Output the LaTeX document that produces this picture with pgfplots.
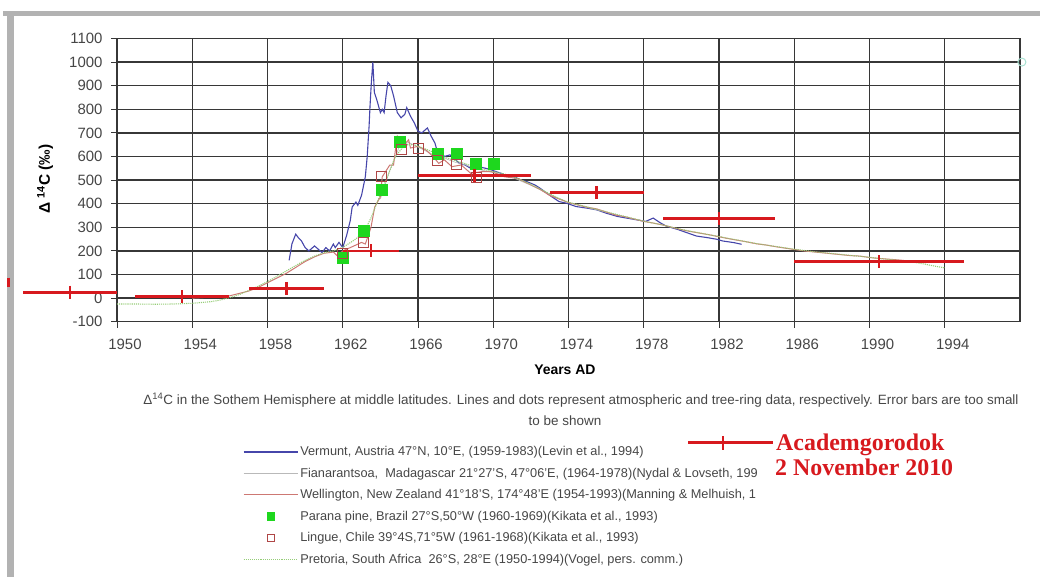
\documentclass[border=0pt]{standalone}
\usepackage{fontspec}
\setmainfont{Liberation Sans}
\newfontfamily\annfont{Liberation Serif}
\usepackage{pgfplots}
\pgfplotsset{compat=1.18}
\definecolor{vblue}{RGB}{70,70,170}
\definecolor{fgray}{RGB}{185,185,185}
\definecolor{wpink}{RGB}{205,120,115}
\definecolor{pgreen}{RGB}{30,215,30}
\definecolor{lred}{RGB}{175,70,70}
\definecolor{prgreen}{RGB}{150,205,120}
\definecolor{ared}{RGB}{215,25,30}
\definecolor{gridc}{RGB}{55,55,55}
\definecolor{framec}{RGB}{178,178,178}
\definecolor{txt}{RGB}{70,70,70}
\definecolor{teal0}{RGB}{170,225,210}
\begin{document}
\begin{tikzpicture}[x=1bp,y=1bp]
\path[use as bounding box] (0,0) rectangle (1040,-577);
\fill[framec] (3,-11.5) rectangle (1040,-16.5);
\fill[framec] (7,-11.5) rectangle (13.5,-577);
\begin{axis}[
  at={(117bp,-321.7bp)}, anchor=south west,
  scale only axis, width=903bp, height=283.2bp,
  xmin=1950, xmax=1998, ymin=-100, ymax=1100,
  clip=false,
  xtick={1950,1954,...,1994}, minor x tick num=3,
  ytick={-100,0,...,1100},
  xtick pos=left, ytick pos=left,
  tick align=outside,
  major tick length=6bp, minor tick length=4bp,
  grid=major, major grid style={gridc, line width=1.3bp},
  axis line style={gridc, line width=1.3bp},
  every tick/.style={gridc, line width=0.9bp},
  ticklabel style={font=\fontsize{15}{15}\selectfont, text=txt},
  /pgf/number format/assume math mode=true,
  /pgf/number format/1000 sep={},
  xticklabel style={xshift=8bp, yshift=-8bp},
  yticklabel style={xshift=-5bp},
  xlabel={Years AD},
  xlabel style={font=\bfseries\fontsize{14}{14}\selectfont, at={(axis description cs:0.496,-0.1706)}, anchor=center},
  ylabel={Δ \textsuperscript{14}C (‰)},
  ylabel style={font=\bfseries\fontsize{15.5}{15.5}\selectfont, at={(axis description cs:-0.0797,0.504)}, anchor=center},
  legend image code/.code={\draw[mark repeat=2,mark phase=2,#1] plot coordinates {(0bp,0bp) (27bp,0bp) (54bp,0bp)};},
  legend style={at={(axis description cs:0.1395,-0.4213)}, anchor=north west, draw=none, fill=none, inner sep=0pt,
    font=\fontsize{12.8}{12.8}\selectfont, text=txt, row sep=0pt, column sep=2bp,
    nodes={inner sep=0pt, minimum height=21.5bp, anchor=west}},
  legend cell align=left,
]
% Vermunt
\addplot[vblue, line width=1.1bp] coordinates {
(1959.15,160) (1959.3,230) (1959.5,271) (1959.65,255) (1959.8,243) (1960.0,214) (1960.2,200) (1960.5,221) (1960.7,207) (1960.9,193) (1961.1,214) (1961.3,200) (1961.5,229) (1961.6,214) (1961.8,236) (1962.0,214) (1962.2,264) (1962.4,329) (1962.5,386) (1962.7,407) (1962.8,393) (1963.0,436) (1963.2,514) (1963.3,600) (1963.4,729) (1963.45,814) (1963.52,914) (1963.6,1000) (1963.68,871) (1963.8,843) (1964.0,786) (1964.1,800) (1964.2,786) (1964.3,857) (1964.4,914) (1964.55,900) (1964.7,857) (1964.9,786) (1965.1,764) (1965.3,779) (1965.4,807) (1965.6,771) (1965.8,743) (1966.0,707) (1966.2,700) (1966.4,714) (1966.5,721) (1966.7,686) (1966.9,657) (1967.0,629) (1967.2,621) (1967.4,600) (1967.7,607) (1968.0,586) (1968.2,571) (1968.5,564) (1968.8,550) (1969.2,557) (1969.6,550) (1969.9,543) (1970.4,529) (1970.8,514) (1971.1,514) (1971.5,500) (1971.8,493) (1972.2,480) (1972.5,465) (1973.1,430) (1973.5,409) (1973.9,402) (1974.4,388) (1975.0,381) (1975.5,374) (1976.0,360) (1976.6,346) (1977.1,339) (1977.6,332) (1978.1,325) (1978.5,339) (1978.9,318) (1979.2,305) (1979.8,291) (1980.3,277) (1980.8,263) (1981.4,256) (1981.9,249) (1982.2,242) (1982.8,235) (1983.2,228)};
\addlegendentry{Vermunt, Austria 47°N, 10°E, (1959-1983)(Levin et al., 1994)}
% Fianarantsoa
\addplot[fgray, line width=0.6bp] coordinates {
(1964,420) (1964.5,540) (1965,640) (1965.5,660) (1966,640) (1966.5,620) (1967,600) (1967.5,590) (1968,575) (1968.5,565) (1969,550) (1969.5,540) (1970,532) (1971,512) (1972,478) (1973,440) (1974,404) (1975,384) (1976,364) (1977,344) (1978,326)};
\addlegendentry{Fianarantsoa,\ \ Madagascar 21°27'S, 47°06'E, (1964-1978)(Nydal \& Lovseth, 199}
% Wellington
\addplot[wpink, line width=1bp] coordinates {
(1954.0,0) (1954.5,2) (1955.0,5) (1955.5,5) (1956.0,10) (1956.5,20) (1957.0,30) (1957.5,45) (1958.0,65) (1958.5,85) (1959.0,105) (1959.5,130) (1960.0,155) (1960.5,175) (1961.0,190) (1961.5,195) (1961.7,180) (1962.0,200) (1962.4,214) (1963.0,236) (1963.2,229) (1963.5,300) (1963.7,386) (1964.0,429) (1964.1,514) (1964.5,564) (1964.7,564) (1964.8,629) (1964.9,686) (1965.2,643) (1965.5,671) (1965.6,636) (1966.0,643) (1966.4,629) (1966.8,600) (1967.1,571) (1967.4,586) (1967.8,557) (1968.3,564) (1968.8,529) (1969.4,536) (1969.9,536) (1970.6,514) (1971.3,507) (1972,480) (1972.5,460) (1973,435) (1973.5,420) (1974,405) (1974.5,395) (1975,385) (1975.5,378) (1976,365) (1976.5,352) (1977,345) (1977.5,335) (1978,325) (1978.5,318) (1979,310) (1979.5,300) (1980,290) (1980.5,282) (1981,275) (1981.5,268) (1982,260) (1982.5,252) (1983,245) (1983.5,238) (1984,230) (1984.5,225) (1985,218) (1985.5,212) (1986,206) (1986.5,200) (1987,196) (1987.5,192) (1988,188) (1988.5,184) (1989,180) (1989.5,178) (1990,172) (1990.5,168) (1991,165) (1991.5,162) (1992,158) (1992.5,155) (1993,150)};
\addlegendentry{Wellington, New Zealand 41°18'S, 174°48'E (1954-1993)(Manning \& Melhuish, 1}
% Parana pine
\addplot[only marks, mark=square*, mark size=5.5bp, mark options={draw=pgreen, fill=pgreen}, legend image post style={mark size=3.8bp}] coordinates {
(1962,170) (1963.1,285) (1964.05,460) (1965.05,662) (1967.03,614) (1968.05,611) (1969.05,568) (1970.05,571)};
\addlegendentry{Parana pine, Brazil 27°S,50°W (1960-1969)(Kikata et al., 1993)}
% Lingue
\addplot[only marks, mark=square, mark size=5bp, mark options={draw=lred, fill=white, line width=1bp}, legend image post style={mark size=3.6bp}] coordinates {
(1962,190) (1963.1,235) (1964.05,514) (1965.1,628) (1966.05,632) (1967.03,585) (1968.05,566) (1969.1,510)};
\addlegendentry{Lingue, Chile 39°4S,71°5W (1961-1968)(Kikata et al., 1993)}
% Pretoria
\addplot[prgreen, line width=1.1bp, densely dotted] coordinates {
(1950,-25) (1951,-25) (1952,-26) (1953,-25) (1954,-22) (1955,-15) (1955.5,-8) (1956,2) (1956.5,15) (1957,32) (1957.5,50) (1958,70) (1958.5,92) (1959,115) (1959.5,138) (1960,160) (1960.5,178) (1961,192) (1961.5,200) (1962,215) (1962.5,240) (1962.8,257) (1963.2,290) (1963.5,340) (1963.8,400) (1964.3,500) (1964.8,600) (1965.3,650) (1965.8,650) (1966.3,635) (1967,612) (1967.5,595) (1968,582) (1968.5,570) (1969,556) (1969.5,545) (1970,536) (1970.5,528) (1971,516) (1971.5,500) (1972,482) (1972.5,462) (1973,442) (1973.5,422) (1974,406) (1974.5,396) (1975,386) (1975.5,376) (1976,366) (1976.5,356) (1977,346) (1977.5,336) (1978,326) (1978.5,318) (1979,310) (1979.5,300) (1980,291) (1980.5,283) (1981,276) (1981.5,268) (1982,261) (1982.5,253) (1983,246) (1983.5,238) (1984,231) (1984.5,225) (1985,219) (1985.5,213) (1986,207) (1986.5,202) (1987,197) (1987.5,193) (1988,189) (1988.5,185) (1989,181) (1989.5,177) (1990,173) (1990.5,168) (1991,164) (1991.5,160) (1992,156) (1992.5,150) (1993,143) (1993.5,135) (1994,128)};
\addlegendentry{Pretoria, South Africa\ \ 26°S, 28°E (1950-1994)(Vogel, pers. comm.)}
% Academgorodok error bars
\addplot[ared, only marks, mark=|, mark size=6.5bp, mark options={line width=2.8bp}, forget plot,
  error bars/.cd, x dir=both, x explicit, error mark=none, error bar style={line width=2.8bp, ared}]
 coordinates {(1947.5,25) +- (2.5,0) (1953.45,6) +- (2.5,0) (1959,41) +- (2,0) (1963.5,200) +- (1.5,0)
  (1969,521) +- (3,0) (1975.5,447) +- (2.5,0) (1982,336) +- (3,0) (1990.5,154) +- (4.5,0)};
\addplot[ared, only marks, mark=|, mark size=4.5bp, mark options={line width=3bp}, forget plot] coordinates {(1944.25,68)};
\addplot[only marks, mark=o, mark size=4bp, mark options={draw=teal0, line width=1bp}, forget plot] coordinates {(1998.1,1000)};
\end{axis}
\node[font=\fontsize{13.5}{13.5}\selectfont, text=txt] at (581,-400) {Δ\textsuperscript{14}C in the Sothem Hemisphere at middle latitudes. Lines and dots represent atmospheric and tree-ring data, respectively. Error bars are too small};
\node[font=\fontsize{13.5}{13.5}\selectfont, text=txt] at (565,-421) {to be shown};
\draw[ared, line width=2.5bp] (688,-442.7) -- (773,-442.7);
\draw[ared, line width=2.5bp] (723,-436) -- (723,-450);
\node[font=\annfont\bfseries\fontsize{24}{24}\selectfont, text=ared, anchor=base west, inner sep=0pt] at (776,-450) {Academgorodok};
\node[font=\annfont\bfseries\fontsize{24}{24}\selectfont, text=ared, anchor=base west, inner sep=0pt] at (775,-475) {2 November 2010};
\end{tikzpicture}
\end{document}
